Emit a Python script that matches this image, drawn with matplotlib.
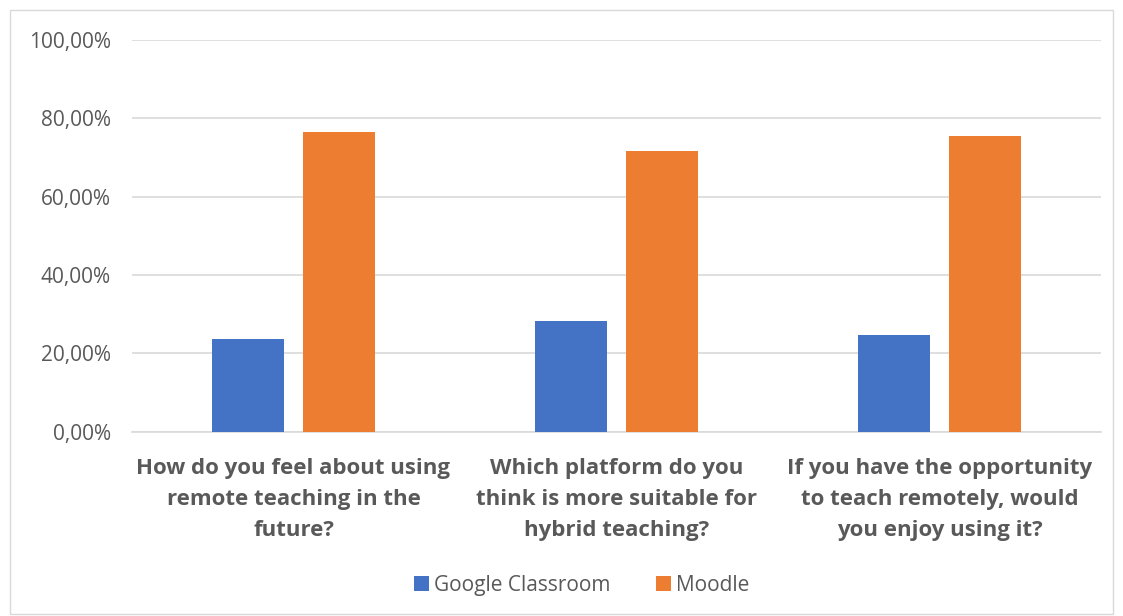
import matplotlib

matplotlib.use("Agg")
import matplotlib.pyplot as plt
import numpy as np
from matplotlib.patches import Rectangle
from matplotlib.ticker import FuncFormatter

OUT = "out.png"
INK, GRID = "#595959", "#D9D9D9"
BLUE, ORANGE = "#4472C4", "#ED7D31"

questions = [
    "How do you feel about using\nremote teaching in the\nfuture?",
    "Which platform do you\nthink is more suitable for\nhybrid teaching?",
    "If you have the opportunity\nto teach remotely, would\nyou enjoy using it?",
]
series = ["Google Classroom", "Moodle"]
google = [0.236, 0.283, 0.246]
moodle = [0.764, 0.717, 0.754]

plt.rcParams["font.family"] = ["Open Sans", "DejaVu Sans"]

fig = plt.figure(figsize=(11.23, 6.16), dpi=100)
fig.patches.append(Rectangle((0.009, 0.003), 0.982, 0.98, transform=fig.transFigure,
                             fill=False, edgecolor=GRID, lw=1.0))
ax = fig.add_axes([0.1175, 0.299, 0.863, 0.636])

x = np.arange(len(questions))
w, off = 0.223, 0.142
ax.bar(x - off, google, w, color=BLUE, label=series[0], zorder=3)
ax.bar(x + off, moodle, w, color=ORANGE, label=series[1], zorder=3)

ax.set_xlim(-0.5, len(questions) - 0.5)
ax.set_ylim(0, 1.0)
ax.set_yticks(np.arange(0, 1.01, 0.2))
ax.yaxis.set_major_formatter(FuncFormatter(lambda v, _: f"{v*100:.2f}%".replace(".", ",")))
ax.grid(axis="y", color=GRID, lw=1.2, zorder=0)
ax.set_xticks(x)
ax.set_xticklabels(questions, fontsize=16, fontweight="bold", color=INK, linespacing=1.62)
ax.tick_params(axis="x", length=0, pad=19)
ax.tick_params(axis="y", length=0, labelsize=15, labelcolor=INK, pad=15)
for side in ("top", "right", "left"):
    ax.spines[side].set_visible(False)
ax.spines["bottom"].set_color(GRID)
ax.spines["bottom"].set_linewidth(1.2)

fig.legend(loc="center", bbox_to_anchor=(0.518, 0.05), ncol=2, frameon=False,
           fontsize=15, handlelength=0.7, handleheight=0.7, handletextpad=0.25,
           columnspacing=2.2, labelcolor=INK)

fig.savefig(OUT, dpi=100)
